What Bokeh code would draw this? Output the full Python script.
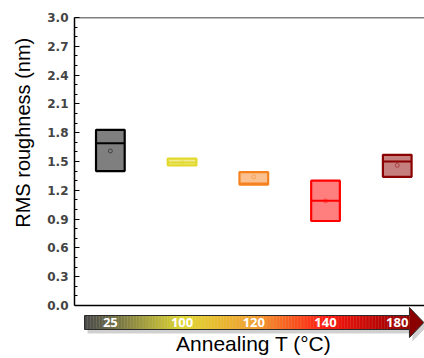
import numpy as np
from bokeh.plotting import figure
from bokeh.layouts import row
from bokeh.models import Range1d, FixedTicker, Span, ColumnDataSource, NumeralTickFormatter
from bokeh.core.properties import value
from bokeh.embed import file_html
from bokeh.resources import INLINE

# ---------------- data ----------------
temps = ["25", "100", "120", "140", "180"]          # annealing temperature (°C)
q1 = [1.40, 1.46, 1.26, 0.88, 1.34]                  # box bottom
median = [1.69, 1.49, 1.27, 1.09, 1.50]              # median line
q3 = [1.83, 1.53, 1.39, 1.30, 1.57]                  # box top
mean = [1.61, 1.49, 1.34, 1.09, 1.46]                # mean marker
y_ticks = [0.0, 0.3, 0.6, 0.9, 1.2, 1.5, 1.8, 2.1, 2.4, 2.7, 3.0]
y_minor = [0.1, 0.2, 0.4, 0.5, 0.7, 0.8, 1.0, 1.1, 1.3, 1.4, 1.6, 1.7,
           1.9, 2.0, 2.2, 2.3, 2.5, 2.6, 2.8, 2.9]

# ---------------- style ----------------
box_colors = ["#000000", "#e2d92c", "#f5821f", "#ff0000", "#8b0000"]
grad_pos = [0.64, 1.0, 2.0, 3.0, 4.0, 5.0, 5.17]
grad_col = ["#4b4b4b", "#6b6a48", "#e0d832", "#f2a030", "#ff1a10", "#a20000", "#920000"]
PXY = 96.0    # pixels per y unit
PXX = 71.7    # pixels per x unit


def ypx(px):  # canvas pixel row -> data y
    return (305 - px) / PXY


pos = list(range(1, len(temps) + 1))
half = 0.2
src = ColumnDataSource(dict(
    x=pos, left=[p_ - half for p_ in pos], right=[p_ + half for p_ in pos],
    q1=q1, q3=q3, median=median, mean=mean, color=box_colors, temp=temps))

p = figure(width=384, height=358, x_range=Range1d(0.5, 5.38), y_range=Range1d(ypx(358), 3.0),
           x_axis_location=None, output_backend="svg", toolbar_location=None,
           min_border_left=34, min_border_right=0, min_border_top=17, min_border_bottom=0)
p.outline_line_color = None
p.grid.visible = False
p.background_fill_color = "white"
p.border_fill_color = "white"

ax = p.yaxis[0]
ax.bounds = (0, 3)
ax.ticker = FixedTicker(ticks=y_ticks, minor_ticks=y_minor)
ax.formatter = NumeralTickFormatter(format="0.0")
ax.major_tick_in = 5
ax.major_tick_out = 0
ax.minor_tick_in = 3
ax.minor_tick_out = 0
ax.axis_line_width = 1.5
ax.major_tick_line_width = 1.2
ax.minor_tick_line_width = 1
ax.major_label_text_font = "DejaVu Sans"
ax.major_label_text_font_style = "bold"
ax.major_label_text_font_size = "12px"
ax.major_label_standoff = 6

p.add_layout(Span(location=3.0, dimension="width", line_color="black", line_width=1.5))
p.add_layout(Span(location=0.0, dimension="width", line_color="black", line_width=1.5))

# boxes
p.quad(left="left", right="right", bottom="q1", top="q3", source=src,
       fill_color="color", fill_alpha=0.5, line_color="color", line_width=2.2)
p.segment(x0="left", x1="right", y0="median", y1="median", source=src,
          line_color="color", line_width=2)
p.scatter(x="x", y="mean", source=src, marker="circle", size=4, fill_color=None,
          line_color="color", line_alpha=0.45, line_width=1)

# ---------------- gradient arrow ----------------
x0, xh, xt = 0.64, 5.17, 5.37
yb0, yb1 = ypx(315), ypx(329)
yh0, yh1, yc = ypx(307), ypx(337), ypx(322)
dx, dy = 3 / PXX, -4 / PXY
ax_x = [x0, xh, xh, xt, xh, xh, x0]
ax_y = [yb0, yb0, yh0, yc, yh1, yb1, yb1]
p.patch([v + dx for v in ax_x], [v + dy for v in ax_y], fill_color="#777777",
        fill_alpha=0.35, line_color=None)


def hex2rgb(h):
    return np.array([int(h[i:i + 2], 16) for i in (1, 3, 5)], dtype=float)


rgb = np.array([hex2rgb(c) for c in grad_col])
N = 220
edges = np.linspace(x0, xh, N + 1)
mids = 0.5 * (edges[:-1] + edges[1:])
cols = []
for m in mids:
    r = np.interp(m, grad_pos, rgb[:, 0])
    g = np.interp(m, grad_pos, rgb[:, 1])
    b = np.interp(m, grad_pos, rgb[:, 2])
    cols.append("#%02x%02x%02x" % (int(r), int(g), int(b)))
p.quad(left=edges[:-1], right=edges[1:] + 0.004, bottom=yb1, top=yb0,
       fill_color=cols, line_color=None)
p.patch([xh, xh, xt, xh, xh], [yb0, yh0, yc, yh1, yb1], fill_color="#8a0000", line_color=None)
p.patch(ax_x, ax_y, fill_color=None, line_color="#2a2a2a", line_width=1)

p.text(x="x", y=yc, text="temp", source=src, text_align="center", text_baseline="middle",
       text_color="white", text_font=value("Open Sans"), text_font_style="bold",
       text_font_size="13px")
p.text(x=[3.0], y=[ypx(343)], text=["Annealing T (°C)"], text_align="center",
       text_baseline="middle", text_color="black", text_font=value("Liberation Sans"),
       text_font_size="21px")

# ---------------- y label panel ----------------
lab = figure(width=40, height=358, x_range=Range1d(0, 40), y_range=Range1d(358, 0),
             x_axis_location=None, y_axis_location=None, min_border=0,
             output_backend="svg", toolbar_location=None)
lab.outline_line_color = None
lab.grid.visible = False
lab.text(x=[22], y=[121], text=["RMS roughness (nm)"], angle=np.pi / 2,
         text_align="center", text_baseline="middle", text_color="black",
         text_font=value("Liberation Sans"), text_font_size="20px")

layout = row(lab, p)
open("out.html", "w").write(file_html(layout, INLINE))
